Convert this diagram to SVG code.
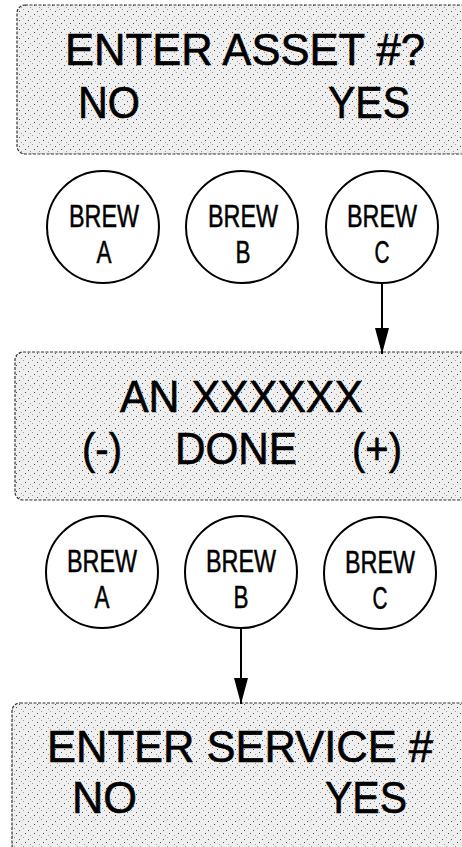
<svg xmlns="http://www.w3.org/2000/svg" width="462" height="847" viewBox="0 0 462 847">
<defs>
<pattern id="stip" width="9" height="9" patternUnits="userSpaceOnUse">
<rect width="9" height="9" fill="#efefef"/>
<rect x="1" y="2" width="1" height="1" fill="#555"/>
<rect x="5" y="0" width="1" height="1" fill="#999"/>
<rect x="7" y="5" width="1" height="1" fill="#444"/>
<rect x="3" y="7" width="1" height="1" fill="#999"/>
</pattern>
<marker id="arr" markerWidth="26" markerHeight="14" refX="26" refY="7" orient="auto" markerUnits="userSpaceOnUse" viewBox="0 0 26 14">
<path d="M0,0 L26,7 L0,14 Z" fill="#000"/>
</marker>
<style>
.box{fill:url(#stip);stroke:#333;stroke-width:1.2;stroke-dasharray:3 1.5}
.big{font-family:"Liberation Sans",Arial,sans-serif;font-size:44px;fill:#000;stroke:#000;stroke-width:0.6}
.btn{fill:#fff;stroke:#000;stroke-width:2}
.bt{font-family:"Liberation Sans",Arial,sans-serif;font-size:31px;fill:#000;stroke:#000;stroke-width:0.5;text-anchor:middle}
.conn line{stroke:#000;stroke-width:2}
</style>
</defs>
<rect width="462" height="847" fill="#fff"/>

<g id="display1">
<rect class="box" x="17" y="5" width="460" height="149" rx="8"/>
<text class="big" x="65" y="65" textLength="360" lengthAdjust="spacingAndGlyphs">ENTER ASSET #?</text>
<text class="big" x="78" y="118" textLength="62" lengthAdjust="spacingAndGlyphs">NO</text>
<text class="big" x="328" y="118" textLength="82" lengthAdjust="spacingAndGlyphs">YES</text>
</g>

<g id="brewA1"><circle class="btn" cx="103" cy="227" r="56"/>
<text class="bt" x="104" y="227" textLength="70" lengthAdjust="spacingAndGlyphs">BREW</text><text class="bt" x="104" y="263" textLength="15" lengthAdjust="spacingAndGlyphs">A</text></g>
<g id="brewB1"><circle class="btn" cx="242" cy="227" r="56"/>
<text class="bt" x="243" y="227" textLength="70" lengthAdjust="spacingAndGlyphs">BREW</text><text class="bt" x="243" y="263" textLength="15" lengthAdjust="spacingAndGlyphs">B</text></g>
<g id="brewC1"><circle class="btn" cx="382" cy="227" r="56"/>
<text class="bt" x="382" y="227" textLength="70" lengthAdjust="spacingAndGlyphs">BREW</text><text class="bt" x="382" y="263" textLength="15" lengthAdjust="spacingAndGlyphs">C</text></g>

<g id="display2">
<rect class="box" x="15" y="352" width="462" height="148" rx="8"/>
<text class="big" x="120" y="412" textLength="243" lengthAdjust="spacingAndGlyphs">AN XXXXXX</text>
<text class="big" x="82" y="464" textLength="40" lengthAdjust="spacingAndGlyphs">(-)</text>
<text class="big" x="175" y="464" textLength="122" lengthAdjust="spacingAndGlyphs">DONE</text>
<text class="big" x="352" y="464" textLength="50" lengthAdjust="spacingAndGlyphs">(+)</text>
</g>

<g id="brewA2"><circle class="btn" cx="102" cy="572" r="56"/>
<text class="bt" x="102" y="572" textLength="70" lengthAdjust="spacingAndGlyphs">BREW</text><text class="bt" x="102" y="608" textLength="15" lengthAdjust="spacingAndGlyphs">A</text></g>
<g id="brewB2"><circle class="btn" cx="241" cy="572" r="56"/>
<text class="bt" x="241" y="572" textLength="70" lengthAdjust="spacingAndGlyphs">BREW</text><text class="bt" x="241" y="608" textLength="15" lengthAdjust="spacingAndGlyphs">B</text></g>
<g id="brewC2"><circle class="btn" cx="380" cy="573" r="56"/>
<text class="bt" x="380" y="573" textLength="70" lengthAdjust="spacingAndGlyphs">BREW</text><text class="bt" x="380" y="609" textLength="15" lengthAdjust="spacingAndGlyphs">C</text></g>

<g id="display3">
<rect class="box" x="12" y="703" width="465" height="150" rx="8"/>
<text class="big" x="47" y="762" textLength="386" lengthAdjust="spacingAndGlyphs">ENTER SERVICE #</text>
<text class="big" x="72" y="813" textLength="65" lengthAdjust="spacingAndGlyphs">NO</text>
<text class="big" x="325" y="813" textLength="82" lengthAdjust="spacingAndGlyphs">YES</text>
</g>

<g id="connectors" class="conn">
<line x1="382" y1="283" x2="382" y2="354" marker-end="url(#arr)"/>
<line x1="241" y1="628" x2="241" y2="704" marker-end="url(#arr)"/>
</g>
</svg>
